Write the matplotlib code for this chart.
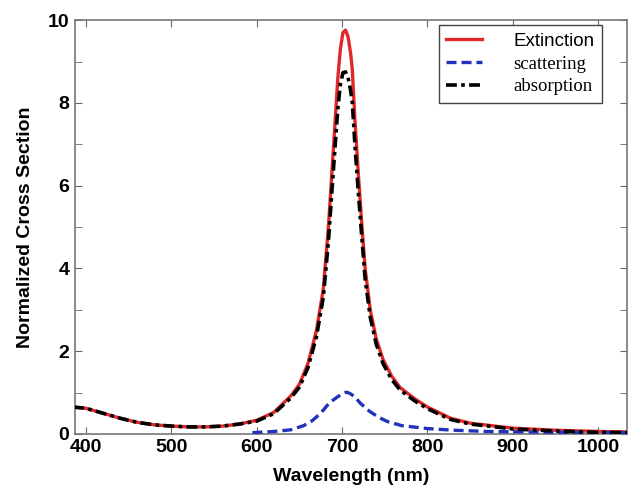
import matplotlib
matplotlib.use("Agg")
import matplotlib.pyplot as plt
from matplotlib.ticker import MultipleLocator

# wavelength grid (nm) for extinction / absorption
wavelength = [385, 400, 420, 440, 460, 480, 500, 520, 540, 560, 580, 600, 620, 640,
              650, 660, 670, 678, 684, 688, 692, 695, 698, 701, 704, 707, 710, 712,
              715, 719, 723, 727, 733, 740, 748, 758, 768, 785, 800, 827, 850, 900,
              950, 1000, 1035]
extinction = [0.65, 0.62, 0.50, 0.38, 0.28, 0.22, 0.19, 0.17, 0.17, 0.19, 0.24, 0.33,
              0.52, 0.92, 1.2, 1.7, 2.5, 3.5, 5.0, 6.3, 7.6, 8.6, 9.3, 9.7, 9.76, 9.6,
              9.2, 8.8, 7.6, 6.3, 5.1, 4.0, 3.0, 2.3, 1.8, 1.4, 1.12, 0.85, 0.65, 0.38,
              0.26, 0.14, 0.09, 0.06, 0.05]
absorption = [0.65, 0.62, 0.50, 0.38, 0.28, 0.22, 0.19, 0.17, 0.17, 0.19, 0.24, 0.31,
              0.49, 0.87, 1.13, 1.6, 2.35, 3.3, 4.65, 5.85, 7.0, 7.85, 8.45, 8.73, 8.75,
              8.61, 8.3, 8.0, 7.0, 5.85, 4.78, 3.75, 2.82, 2.17, 1.7, 1.32, 1.06, 0.8,
              0.61, 0.35, 0.24, 0.12, 0.07, 0.04, 0.03]

# scattering has its own grid (starts near 600 nm)
sca_wavelength = [595, 620, 640, 655, 665, 675, 685, 695, 701, 705, 709, 715, 721, 732,
                  743, 753, 770, 800, 830, 870, 950, 1035]
scattering = [0.03, 0.06, 0.10, 0.20, 0.32, 0.50, 0.75, 0.90, 0.98, 1.01, 0.98, 0.90,
              0.75, 0.55, 0.40, 0.30, 0.20, 0.13, 0.09, 0.06, 0.04, 0.03]

fig = plt.figure(figsize=(6.4, 5.04), dpi=100)
ax = fig.add_axes([0.117, 0.139, 0.863, 0.821])

ax.plot(wavelength, extinction, color="#e02828", lw=2.4, label="Extinction", zorder=2)
ax.plot(sca_wavelength, scattering, color="#2233bb", lw=2.4, ls=(0, (3, 1.5)),
        label="scattering", zorder=3)
ax.plot(wavelength, absorption, color="black", lw=2.6, ls=(0, (3, 1.2, 1, 1.2)),
        label="absorption", zorder=4)

ax.set_xlim(387, 1034)
ax.set_ylim(0, 10)
ax.xaxis.set_major_locator(MultipleLocator(100))
ax.yaxis.set_major_locator(MultipleLocator(2))
ax.yaxis.set_minor_locator(MultipleLocator(1))

ax.tick_params(which="both", direction="in", top=True, right=True, color="#666666")
ax.tick_params(which="major", length=5, labelsize=14, pad=4)
ax.tick_params(which="minor", length=5)
for lab in ax.get_xticklabels() + ax.get_yticklabels():
    lab.set_fontweight("bold")
    lab.set_family("Liberation Sans")
for sp in ax.spines.values():
    sp.set_color("#777777")
    sp.set_linewidth(1.2)

ax.set_xlabel("Wavelength (nm)", fontsize=14, fontweight="bold", family="Liberation Sans",
              labelpad=8)
ax.set_ylabel("Normalized Cross Section", fontsize=14, fontweight="bold",
              family="Liberation Sans", labelpad=10)

leg = ax.legend(loc="upper right", bbox_to_anchor=(0.955, 0.988), frameon=True,
                fancybox=False, edgecolor="#444444", framealpha=1, borderpad=0.4,
                handlelength=1.9, handletextpad=1.7, labelspacing=0.3, borderaxespad=0,
                prop={"family": "Liberation Serif", "size": 13.5})
leg.get_frame().set_linewidth(1.0)
leg.get_texts()[0].set_family("Liberation Sans")

fig.savefig("out.png", dpi=100)
